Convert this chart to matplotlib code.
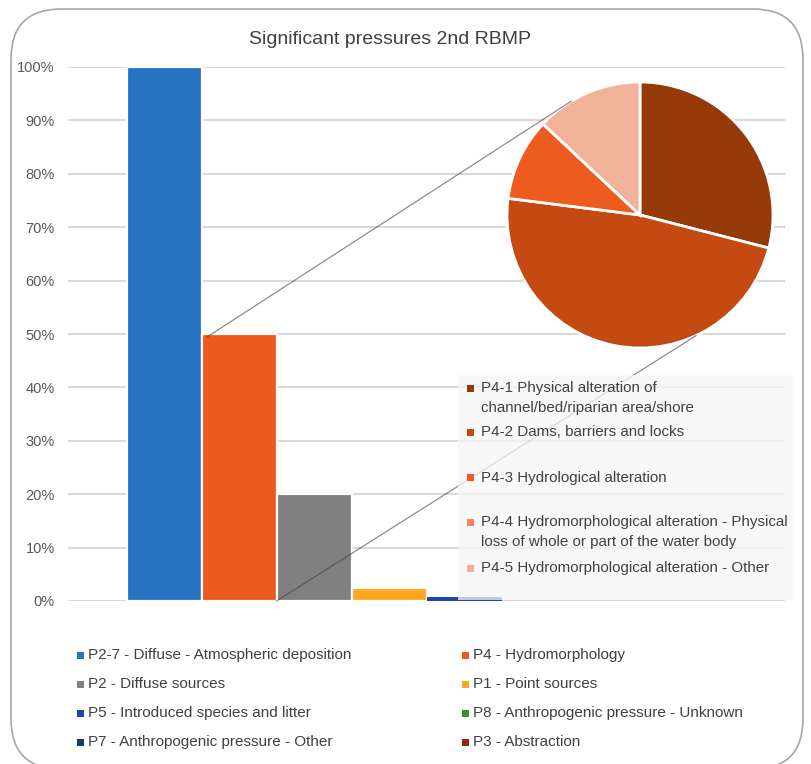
import matplotlib
matplotlib.use("Agg")
import matplotlib.pyplot as plt
from matplotlib.patches import FancyBboxPatch, Rectangle, ConnectionPatch
import numpy as np

plt.rcParams['font.family'] = ['Liberation Sans', 'DejaVu Sans']

# ---------------- data ----------------
title = "Significant pressures 2nd RBMP"
series_labels = [
    "P2-7 - Diffuse - Atmospheric deposition",
    "P4 - Hydromorphology",
    "P2 - Diffuse sources",
    "P1 - Point sources",
    "P5 - Introduced species and litter",
    "P8 - Anthropogenic pressure - Unknown",
    "P7 - Anthropogenic pressure - Other",
    "P3 - Abstraction",
]
series_values = [100, 50, 20, 2.5, 0.8, 0, 0, 0]
series_colors = ["#2872C2", "#EE5A1D", "#808080", "#FFA71E",
                 "#2244A8", "#3C8C2E", "#1B3A6A", "#8A2B10"]

pie_labels = [
    "P4-1 Physical alteration of\nchannel/bed/riparian area/shore",
    "P4-2 Dams, barriers and locks",
    "P4-3 Hydrological alteration",
    "P4-4 Hydromorphological alteration - Physical\nloss of whole or part of the water body",
    "P4-5 Hydromorphological alteration - Other",
]
pie_values = [29, 48, 10, 0, 13]
pie_colors = ["#973A0A", "#C54A11", "#EE5B1E", "#F4845C", "#F2B19B"]

yticks = [0, 10, 20, 30, 40, 50, 60, 70, 80, 90, 100]
ytick_labels = [f"{t}%" for t in yticks]

# ---------------- layout helpers ----------------
W, H = 811, 764
fig = plt.figure(figsize=(W / 100, H / 100), dpi=100)
fig.patch.set_facecolor("white")

def fx(px):
    return px / W

def fy(py):
    return 1 - py / H

# rounded chart border
border = FancyBboxPatch((fx(11), fy(769)), fx(803) - fx(11), fy(9) - fy(769),
                        boxstyle="round,pad=0,rounding_size=0.062",
                        transform=fig.transFigure, facecolor="white",
                        edgecolor="#A6A6A6", linewidth=1.2, zorder=-5,
                        mutation_aspect=W / H)
fig.patches.append(border)

fig.text(fx(390), fy(40), title, ha="center", va="center",
         fontsize=14, color="#404040")

# ---------------- bar axes ----------------
ax = fig.add_axes([fx(68), fy(601), fx(785) - fx(68), fy(67) - fy(601)])
ax.set_facecolor("none")
n = len(series_values)
xpos = np.arange(n) - (n - 1) / 2
for i, (v, c) in enumerate(zip(series_values, series_colors)):
    ax.bar(xpos[i], v, width=1.0, color=c,
           edgecolor="white", linewidth=1.6 if v > 1 else 0, zorder=3)
ax.set_xlim(-4.78, 4.78)
ax.set_ylim(0, 100)
ax.set_yticks(yticks)
ax.set_yticklabels(ytick_labels, fontsize=10.5, color="#595959")
ax.tick_params(axis="y", length=0, pad=9.5)
ax.set_xticks([])
for s in ax.spines.values():
    s.set_visible(False)
ax.grid(axis="y", color="#D9D9D9", linewidth=1.5, zorder=0)
ax.set_axisbelow(True)

# ---------------- pie axes ----------------
cx, cy, r = 640, 215, 133
pax = fig.add_axes([fx(cx - r), fy(cy + r), fx(2 * r), fy(0) - fy(2 * r)])
pax.pie(pie_values, colors=pie_colors, startangle=90, counterclock=False,
        wedgeprops=dict(edgecolor="white", linewidth=2))
pax.set_xlim(-1, 1)
pax.set_ylim(-1, 1)
pax.set_aspect("equal")
pax.axis("off")

# connector lines from bars to pie
for (xa, ya), ang in [((xpos[1] - 0.42, 49.5), 121), ((xpos[2] - 0.5, 0), -65)]:
    con = ConnectionPatch(xyA=(xa, ya), coordsA=ax.transData,
                          xyB=(np.cos(np.radians(ang)), np.sin(np.radians(ang))),
                          coordsB=pax.transData, color="#404040", alpha=0.6,
                          linewidth=0.9, zorder=4)
    fig.add_artist(con)

# ---------------- pie legend box ----------------
box = Rectangle((fx(458), fy(600)), fx(793) - fx(458), fy(375) - fy(600),
                transform=fig.transFigure, facecolor="#F6F6F6", alpha=0.75,
                edgecolor="none", zorder=5)
fig.add_artist(box)
pie_leg_y = [388, 432, 478, 522, 568]
for lab, col, py in zip(pie_labels, pie_colors, pie_leg_y):
    fig.add_artist(Rectangle((fx(467), fy(py + 3.5)), fx(7), fy(0) - fy(7),
                             transform=fig.transFigure, facecolor=col,
                             edgecolor="none", zorder=6))
    for k, ln in enumerate(lab.split("\n")):
        fig.text(fx(481), fy(py + 20 * k), ln, ha="left", va="center",
                 fontsize=10.9, color="#404040", zorder=6)

# ---------------- bottom legend ----------------
rows_y = [655, 684, 713, 742]
cols_x = [77, 462]
for i, (lab, col) in enumerate(zip(series_labels, series_colors)):
    row, colm = divmod(i, 2)
    px, py = cols_x[colm], rows_y[row]
    fig.add_artist(Rectangle((fx(px), fy(py + 3.5)), fx(7), fy(0) - fy(7),
                             transform=fig.transFigure, facecolor=col,
                             edgecolor="none", zorder=6))
    fig.text(fx(px + 11), fy(py), lab, ha="left", va="center",
             fontsize=11, color="#404040")

fig.savefig("out.png", dpi=100)
